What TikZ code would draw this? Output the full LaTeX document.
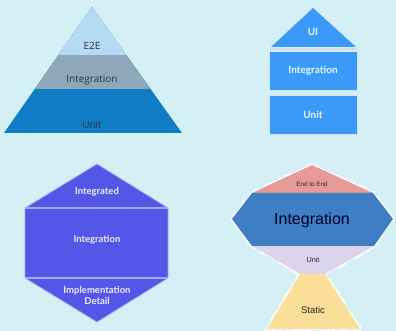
\documentclass[tikz,border=0pt]{standalone}
\usepackage{fontspec}
\setmainfont{Open Sans}
\newfontfamily\latofont{Lato}
\newfontfamily\arialfont{Liberation Sans}
\usepackage{tikz}
\usetikzlibrary{shapes,positioning,decorations.pathmorphing}

\definecolor{bgcyan}{HTML}{D5F0F4}
\definecolor{ptopblue}{HTML}{B5DAF3}
\definecolor{pmidgray}{HTML}{8EA8BA}
\definecolor{pbotblue}{HTML}{107CC6}
\definecolor{hblue}{HTML}{3B99F7}
\definecolor{hexviolet}{HTML}{5356E7}
\definecolor{hexline}{HTML}{A5A7F2}
\definecolor{epink}{HTML}{E79A97}
\definecolor{eblue}{HTML}{3E7EC3}
\definecolor{elilac}{HTML}{DCD4EA}
\definecolor{eyellow}{HTML}{FBDF98}

\begin{document}
\begin{tikzpicture}[x=1pt,y=-1pt,
  pyrtext/.style={text=black!80,font=\fontsize{10}{12}\selectfont},
  hometext/.style={text=white!92!hblue,font=\latofont\bfseries\fontsize{10}{12}\selectfont},
  hexatext/.style={text=white!90!hexviolet,font=\latofont\bfseries\fontsize{9.5}{11}\selectfont,align=center},
  hourtext/.style={text=black!85,font=\arialfont},
  homebox/.style={draw=white!75!hblue,line width=0.8pt,fill=hblue,minimum width=88pt,minimum height=39pt,inner sep=0pt}]
 \fill[bgcyan] (0,0) rectangle (396,331);
 \useasboundingbox (0,0) rectangle (396,331);

 % pyramid
 \begin{scope}
  \clip (92,7) -- (182,133) -- (4,133) -- cycle;
  \fill[pbotblue] (0,0) rectangle (200,140);
  \fill[pmidgray] (0,0) rectangle (200,89);
  \fill[ptopblue] (0,0) rectangle (200,55);
 \end{scope}
 \node[pyrtext] (pyrE2E) at (92,46) {E2E};
 \node[pyrtext] (pyrInt) at (92,80) {Integration};
 \node[pyrtext] (pyrUnit) at (92,125) {Unit};

 % house
 \fill[hblue] (313,8) -- (356,47) -- (271,47) -- cycle;
 \draw[white!70!gray,line width=1.5pt] (270,49) -- (357,49);
 \node[homebox] (homeInt) at (313,71) {};
 \node[homebox] (homeUnit) at (313,114.5) {};
 \node[hometext] (homeUI) at (313,32) {UI};
 \node[hometext] at (homeInt) {Integration};
 \node[hometext] at (homeUnit) {Unit};

 % honeycomb
 \filldraw[fill=hexviolet,draw=hexline,line width=0.8pt] (97,164) -- (168,208) -- (168,278) -- (97,322) -- (25,278) -- (25,208) -- cycle;
 \draw[hexline,line width=1.3pt] (25,208) -- (168,208);
 \draw[hexline,line width=1.3pt] (25,278) -- (168,278);
 \node[hexatext] (hexTop) at (97,192) {Integrated};
 \node[hexatext] (hexMid) at (97,240) {Integration};
 \node[hexatext] (hexBot) at (97,296) {Implementation\\Detail};

 % hourglass
 \draw[white,line width=2.5pt,decorate,decoration={random steps,segment length=2.5pt,amplitude=1.2pt}]
  (312,165) -- (373,193) -- (393,219) -- (374,246) -- (325,274) -- (360,329) -- (267,329) -- (300,274) -- (252,246) -- (232,219) -- (252,193) -- cycle;
 \fill[epink] (312,165) -- (373,193) -- (252,193) -- cycle;
 \fill[eblue] (252,193) -- (373,193) -- (393,219) -- (374,246) -- (252,246) -- (232,219) -- cycle;
 \fill[elilac] (252,246) -- (374,246) -- (325,274) -- (300,274) -- cycle;
 \fill[eyellow] (300,274) -- (325,274) -- (360,329) -- (267,329) -- cycle;
 \node[hourtext,font=\arialfont\fontsize{6.3}{7.5}\selectfont] (hourTop) at (312,184) {End to End};
 \node[hourtext,text=black!85!blue,font=\arialfont\fontsize{16}{18}\selectfont] (hourInt) at (312,220) {Integration};
 \node[hourtext,font=\arialfont\fontsize{7.3}{8.5}\selectfont] (hourUnit) at (313,260) {Unit};
 \node[hourtext,font=\arialfont\fontsize{9.5}{11}\selectfont] (hourStatic) at (313,310) {Static};
\end{tikzpicture}
\end{document}
